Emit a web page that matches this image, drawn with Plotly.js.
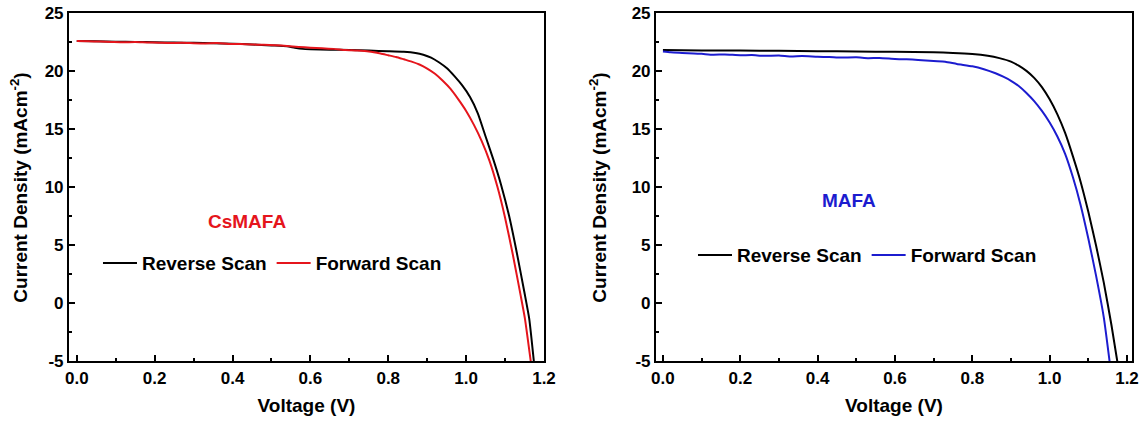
<!DOCTYPE html>
<html>
<head>
<meta charset="utf-8">
<script src="https://cdn.plot.ly/plotly-3.0.1.min.js"></script>
<style>
  html, body { margin: 0; padding: 0; background: #ffffff; }
  #chart { width: 1146px; height: 423px; }
</style>
</head>
<body>
<div id="chart"></div>
<script>
// ---------- Data ----------
// Left panel: CsMAFA
const csReverseV = [0, 0.05, 0.1, 0.15, 0.2, 0.25, 0.3, 0.35, 0.4, 0.45, 0.5, 0.54, 0.56, 0.58, 0.6, 0.65, 0.7, 0.75, 0.8, 0.84, 0.87, 0.89, 0.91, 0.93, 0.95, 0.97, 0.99, 1.01, 1.03, 1.05, 1.07, 1.09, 1.11, 1.13, 1.15, 1.162, 1.174];
const csReverseJ = [22.62, 22.6, 22.57, 22.55, 22.52, 22.5, 22.47, 22.44, 22.4, 22.33, 22.25, 22.18, 22.05, 21.95, 21.92, 21.88, 21.85, 21.8, 21.75, 21.7, 21.6, 21.45, 21.2, 20.8, 20.3, 19.6, 18.8, 17.8, 16.4, 14.4, 12.4, 10.2, 7.6, 4.4, 0.9, -1.3, -5];

const csForwardV = [0, 0.03, 0.06, 0.09, 0.12, 0.15, 0.18, 0.21, 0.24, 0.27, 0.3, 0.33, 0.36, 0.39, 0.42, 0.45, 0.48, 0.51, 0.54, 0.57, 0.6, 0.63, 0.66, 0.69, 0.72, 0.75, 0.78, 0.8, 0.82, 0.84, 0.86, 0.88, 0.9, 0.92, 0.94, 0.96, 0.98, 1.0, 1.02, 1.04, 1.06, 1.08, 1.1, 1.12, 1.14, 1.151, 1.166];
const csForwardJ = [22.63, 22.6, 22.58, 22.55, 22.52, 22.54, 22.5, 22.48, 22.45, 22.47, 22.44, 22.42, 22.45, 22.38, 22.36, 22.33, 22.3, 22.26, 22.2, 22.12, 22.05, 22.0, 21.95, 21.85, 21.8, 21.72, 21.55, 21.4, 21.25, 21.05, 20.85, 20.6, 20.25, 19.8, 19.2, 18.5, 17.6, 16.6, 15.4, 14.0, 12.3, 10.1, 7.4, 4.2, 0.7, -1.3, -5];

// Right panel: MAFA
const maReverseV = [0, 0.1, 0.2, 0.3, 0.4, 0.5, 0.6, 0.7, 0.75, 0.8, 0.84, 0.87, 0.9, 0.92, 0.94, 0.96, 0.98, 1.0, 1.02, 1.04, 1.06, 1.08, 1.1, 1.12, 1.14, 1.16, 1.175];
const maReverseJ = [21.85, 21.82, 21.8, 21.78, 21.75, 21.72, 21.7, 21.65, 21.6, 21.5, 21.35, 21.15, 20.85, 20.5, 20.05, 19.45, 18.65, 17.6, 16.3, 14.7, 12.7, 10.5, 7.9, 5.0, 1.8, -1.9, -5];

const maForwardV = [0, 0.02, 0.05, 0.08, 0.1, 0.13, 0.16, 0.2, 0.23, 0.26, 0.3, 0.33, 0.36, 0.4, 0.43, 0.46, 0.5, 0.53, 0.56, 0.6, 0.63, 0.66, 0.7, 0.73, 0.76, 0.8, 0.83, 0.86, 0.88, 0.9, 0.92, 0.94, 0.96, 0.98, 1.0, 1.02, 1.04, 1.06, 1.08, 1.1, 1.12, 1.14, 1.155];
const maForwardJ = [21.72, 21.65, 21.6, 21.55, 21.52, 21.45, 21.47, 21.4, 21.42, 21.35, 21.38, 21.3, 21.33, 21.27, 21.25, 21.2, 21.22, 21.15, 21.17, 21.08, 21.05, 21.0, 20.9, 20.85, 20.65, 20.45, 20.2, 19.85, 19.55, 19.2, 18.75, 18.15, 17.45, 16.6, 15.6, 14.4, 12.9, 10.9, 8.5, 5.6, 2.4, -1.2, -5];

// Tick labels
const xTickVals = [0, 0.2, 0.4, 0.6, 0.8, 1.0, 1.2];
const xTickText = ['0.0', '0.2', '0.4', '0.6', '0.8', '1.0', '1.2'];
const xMinorVals = [0.1, 0.3, 0.5, 0.7, 0.9, 1.1];
const yTickVals = [-5, 0, 5, 10, 15, 20, 25];
const yTickText = ['-5', '0', '5', '10', '15', '20', '25'];
const yMinorVals = [-2.5, 2.5, 7.5, 12.5, 17.5, 22.5];

// Text
const seriesNames = ['Reverse Scan', 'Forward Scan'];
const panelLabels = ['CsMAFA', 'MAFA'];
const xTitle = 'Voltage (V)';
const yTitle = 'Current Density (mAcm<sup>-2</sup>)';

// ---------- Styling ----------
const FONT = 'Liberation Sans, Arial, sans-serif';
const BLACK = '#000000';
const RED = '#e5151c';
const BLUE = '#1c1ccf';
const LINE = { width: 2, shape: 'spline', smoothing: 0.5 };

const traces = [
  { x: csReverseV, y: csReverseJ, xaxis: 'x', yaxis: 'y', type: 'scatter', mode: 'lines',
    name: seriesNames[0], line: Object.assign({ color: BLACK }, LINE), legend: 'legend' },
  { x: csForwardV, y: csForwardJ, xaxis: 'x', yaxis: 'y', type: 'scatter', mode: 'lines',
    name: seriesNames[1], line: Object.assign({ color: RED }, LINE), legend: 'legend' },
  { x: maReverseV, y: maReverseJ, xaxis: 'x2', yaxis: 'y2', type: 'scatter', mode: 'lines',
    name: seriesNames[0], line: Object.assign({ color: BLACK }, LINE), legend: 'legend2' },
  { x: maForwardV, y: maForwardJ, xaxis: 'x2', yaxis: 'y2', type: 'scatter', mode: 'lines',
    name: seriesNames[1], line: Object.assign({ color: BLUE }, LINE), legend: 'legend2' }
];

function xAxis(domain, range, anchor) {
  return {
    domain: domain, range: range, anchor: anchor,
    showgrid: false, zeroline: false,
    showline: true, linecolor: BLACK, linewidth: 2, mirror: true,
    ticks: 'inside', ticklen: 6, tickwidth: 2, tickcolor: BLACK,
    tickvals: xTickVals, ticktext: xTickText,
    minor: { tickvals: xMinorVals, ticks: 'inside', ticklen: 3.5, tickwidth: 2, tickcolor: BLACK },
    tickfont: { family: FONT, size: 17, weight: 'bold', color: BLACK },
    title: { text: xTitle, font: { family: FONT, size: 19, weight: 'bold', color: BLACK }, standoff: 12 },
    automargin: false, fixedrange: true
  };
}
function yAxis(domain, anchor, standoff) {
  return {
    domain: domain, range: [-5, 25], anchor: anchor,
    showgrid: false, zeroline: false,
    showline: true, linecolor: BLACK, linewidth: 2, mirror: true,
    ticks: 'inside', ticklen: 6, tickwidth: 2, tickcolor: BLACK,
    tickvals: yTickVals, ticktext: yTickText,
    minor: { tickvals: yMinorVals, ticks: 'inside', ticklen: 3.5, tickwidth: 2, tickcolor: BLACK },
    tickfont: { family: FONT, size: 17, weight: 'bold', color: BLACK },
    title: { text: yTitle, font: { family: FONT, size: 19, weight: 'bold', color: BLACK }, standoff: standoff },
    automargin: false, fixedrange: true
  };
}

const yDom = [0.1454, 0.9681];
const legendFont = { family: FONT, size: 19, weight: 'bold', color: BLACK };

const layout = {
  width: 1146, height: 423,
  margin: { l: 0, r: 0, t: 0, b: 0 },
  paper_bgcolor: '#ffffff', plot_bgcolor: '#ffffff',
  showlegend: true,
  xaxis: xAxis([0.0602, 0.4747], [-0.02, 1.2], 'y'),
  yaxis: yAxis(yDom, 'x', 12),
  xaxis2: xAxis([0.5724, 0.9878], [-0.018, 1.213], 'y2'),
  yaxis2: yAxis(yDom, 'x2', 20),
  legend: {
    orientation: 'h', x: 0.0855, y: 0.378, xanchor: 'left', yanchor: 'middle',
    bgcolor: 'rgba(0,0,0,0)', borderwidth: 0, font: legendFont, itemwidth: 34, tracegroupgap: 0
  },
  legend2: {
    orientation: 'h', x: 0.6047, y: 0.397, xanchor: 'left', yanchor: 'middle',
    bgcolor: 'rgba(0,0,0,0)', borderwidth: 0, font: legendFont, itemwidth: 34, tracegroupgap: 0
  },
  annotations: [
    { text: panelLabels[0], xref: 'x domain', yref: 'y domain', x: 0.375, y: 0.401,
      showarrow: false, font: { family: FONT, size: 19, weight: 'bold', color: RED } },
    { text: panelLabels[1], xref: 'x2 domain', yref: 'y2 domain', x: 0.405, y: 0.464,
      showarrow: false, font: { family: FONT, size: 19, weight: 'bold', color: BLUE } }
  ]
};

Plotly.newPlot('chart', traces, layout, { displayModeBar: false, staticPlot: true });
</script>
</body>
</html>
